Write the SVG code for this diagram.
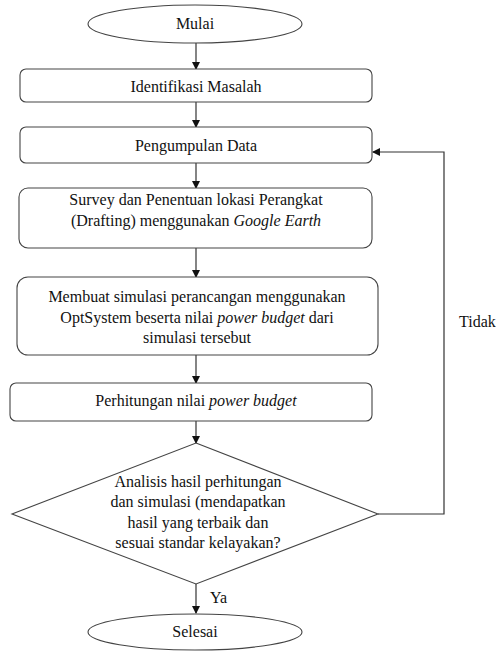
<svg xmlns="http://www.w3.org/2000/svg" width="496" height="651" viewBox="0 0 496 651">
<style>
.n{fill:#fff;stroke:#444;stroke-width:1.1}
.t{font-size:16px;fill:#111;text-anchor:middle}
.tl{font-size:16px;fill:#111}
.c{fill:none;stroke:#333;stroke-width:1.2}
</style>
<defs>
<marker id="ah" markerWidth="8" markerHeight="8" refX="7" refY="4" orient="auto" markerUnits="userSpaceOnUse">
<path d="M0,0 L8,4 L0,8 Z" fill="#111"/>
</marker>
</defs>
<rect width="496" height="651" fill="#fff"/>
<g font-family="'Liberation Serif', Tinos, 'Times New Roman', 'DejaVu Serif', serif">
<g id="connectors">
<line class="c" x1="196" y1="43" x2="196" y2="69" marker-end="url(#ah)"/>
<line class="c" x1="196" y1="102" x2="196" y2="127" marker-end="url(#ah)"/>
<line class="c" x1="196" y1="163" x2="196" y2="188" marker-end="url(#ah)"/>
<line class="c" x1="196" y1="248" x2="196" y2="277" marker-end="url(#ah)"/>
<line class="c" x1="196" y1="355" x2="196" y2="383" marker-end="url(#ah)"/>
<line class="c" x1="196" y1="421" x2="196" y2="443" marker-end="url(#ah)"/>
<line class="c" x1="196" y1="584" x2="196" y2="613" marker-end="url(#ah)"/>
<polyline class="c" points="378,514 444,514 444,152 373,152" marker-end="url(#ah)"/>
<text class="tl" x="210" y="603">Ya</text>
<text class="tl" x="459" y="327">Tidak</text>
</g>
<g id="mulai">
<ellipse class="n" cx="195" cy="24" rx="107" ry="19"/>
<text class="t" x="195" y="29">Mulai</text>
</g>
<g id="identifikasi">
<rect class="n" x="20" y="69" width="352" height="33" rx="6"/>
<text class="t" x="196" y="92">Identifikasi Masalah</text>
</g>
<g id="pengumpulan">
<rect class="n" x="20" y="127" width="352" height="36" rx="6"/>
<text class="t" x="196" y="151">Pengumpulan Data</text>
</g>
<g id="survey">
<rect class="n" x="19" y="188" width="353" height="60" rx="9"/>
<text class="t" x="196" y="205">Survey dan Penentuan lokasi Perangkat</text>
<text class="t" x="196" y="226">(Drafting) menggunakan <tspan font-style="italic">Google Earth</tspan></text>
</g>
<g id="simulasi">
<rect class="n" x="17" y="277" width="361" height="78" rx="11"/>
<text class="t" x="197" y="302">Membuat simulasi perancangan menggunakan</text>
<text class="t" x="197" y="323">OptSystem beserta nilai <tspan font-style="italic">power budget</tspan> dari</text>
<text class="t" x="197" y="343">simulasi tersebut</text>
</g>
<g id="perhitungan">
<rect class="n" x="10" y="383" width="362" height="38" rx="6"/>
<text class="t" x="196" y="406">Perhitungan nilai <tspan font-style="italic">power budget</tspan></text>
</g>
<g id="analisis">
<polygon class="n" points="196,443 378,514 196,584 12,514"/>
<text class="t" x="198" y="487">Analisis hasil perhitungan</text>
<text class="t" x="198" y="507">dan simulasi (mendapatkan</text>
<text class="t" x="198" y="528">hasil yang terbaik dan</text>
<text class="t" x="198" y="548">sesuai standar kelayakan?</text>
</g>
<g id="selesai">
<ellipse class="n" cx="195" cy="632" rx="107" ry="18"/>
<text class="t" x="195" y="637">Selesai</text>
</g>
</g>
</svg>
